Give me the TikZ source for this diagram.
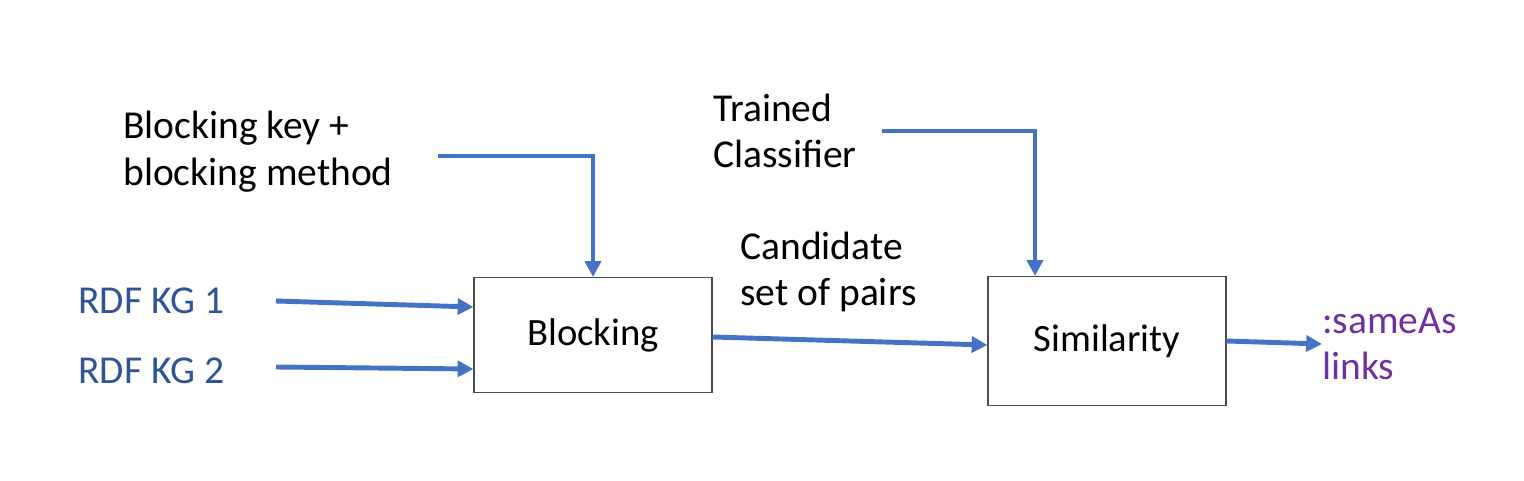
\documentclass[tikz,border=0pt]{standalone}
\usepackage{fontspec}
\setmainfont{Carlito}
\usetikzlibrary{arrows.meta,positioning}
\definecolor{flowblue}{HTML}{4472C4}
\definecolor{kgblue}{HTML}{2F5597}
\definecolor{linkpurple}{HTML}{7030A0}
\tikzset{
    % Process box style
    process/.style={
        rectangle,
        draw=black!70,
        line width=0.6pt,
        align=center,
        font=\fontsize{22}{26}\selectfont
    },
    % Plain label style
    label text/.style={
        align=left,
        inner sep=0pt,
        font=\fontsize{22.5}{26.6}\selectfont
    },
    % Arrow style
    flow/.style={
        -{Triangle[length=9pt, width=9pt]},
        line width=2.8pt,
        color=flowblue
    }
}
\begin{document}
\begin{tikzpicture}[x=0.02cm, y=-0.02cm]
        \useasboundingbox (0,0) rectangle (1524,480);

        % Boxes
        \node[process, minimum width=238*0.02cm, minimum height=115*0.02cm] (block) at (593, 335) {Blocking};
        \node[process, minimum width=238*0.02cm, minimum height=129*0.02cm] (sim) at (1107, 341) {Similarity};

        % Inputs
        \node[label text, text=kgblue, anchor=west] (kg1) at (78, 301) {RDF KG 1};
        \node[label text, text=kgblue, anchor=west] (kg2) at (78, 371) {RDF KG 2};
        \node[label text, anchor=west] (key) at (123, 152) {Blocking key +\\blocking method};
        \node[label text, anchor=west] (clf) at (713, 131) {Trained\\Classifier};
        \node[label text, anchor=west] (cand) at (740, 272) {Candidate\\set of pairs};
        \node[label text, text=linkpurple, anchor=west] (links) at (1322, 344) {:sameAs\\links};

        % Free ends
        \coordinate (kg1 end) at (276, 301);
        \coordinate (kg2 end) at (276, 367);
        \coordinate (key end) at (438, 156);
        \coordinate (clf end) at (882, 131);

        % Connections
        \draw[flow] (kg1 end) -- (block.west |- 0,307);
        \draw[flow] (kg2 end) -- (block.west |- 0,369);
        \draw[flow] (key end) -| (block.north);
        \draw[flow] (clf end) -| ([xshift=-72*0.02cm]sim.north);
        \draw[flow] (block.east |- 0,337) -- (sim.west |- 0,345);
        \draw[flow] (sim.east) -- (links.west);

    \end{tikzpicture}
\end{document}
